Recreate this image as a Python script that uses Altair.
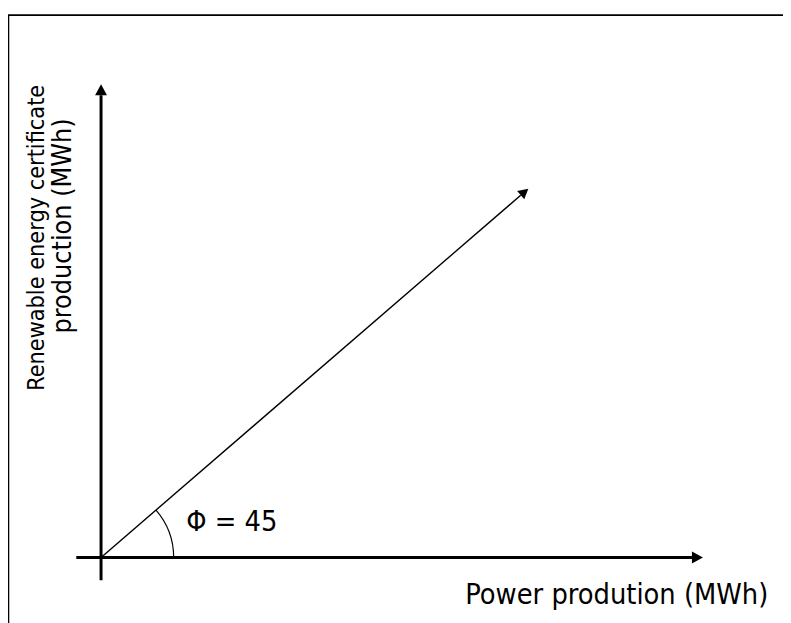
import math
import altair as alt
import pandas as pd

# ---- diagram geometry (chart units, origin at the axes crossing, y upward) ----
seg_names = ["power axis", "certificate axis", "vector"]
seg_x = [-25, 0, 0]
seg_y = [0, -23, 0]
seg_x2 = [597, 0, 424]
seg_y2 = [0, 467, 366]

frame_x = [-93.5, -94]
frame_y = [548, 548]
frame_x2 = [-93.5, 700]
frame_y2 = [-80, 548]

phi_label = "Φ = 45"
phi_pos = [86, 27]
arc_radius = [72.8, 74.0]

x_title = "Power prodution (MWh)"
x_title_pos = [368, -47]
y_title_lines = ["Renewable energy certificate", "production (MWh)"]
y_title_x = [-58, -30]
y_title_y = [323, 335]
y_title_sizes = [23.5, 27]

FONT = "DejaVu Sans Condensed, DejaVu Sans, sans-serif"

X = alt.Scale(domain=[-94, 689], nice=False, zero=False)
Y = alt.Scale(domain=[-63, 552], nice=False, zero=False)

segs = pd.DataFrame({"name": seg_names, "x": seg_x, "y": seg_y, "x2": seg_x2, "y2": seg_y2})
segs["angle"] = [(90 - math.degrees(math.atan2(b - a, d - c))) % 360
                 for a, b, c, d in zip(seg_y, seg_y2, seg_x, seg_x2)]

frame = pd.DataFrame({"x": frame_x, "y": frame_y, "x2": frame_x2, "y2": frame_y2})

def xe(f="x"):
    return alt.X(f"{f}:Q", scale=X, axis=None)

def ye(f="y"):
    return alt.Y(f"{f}:Q", scale=Y, axis=None)

frame_layer = alt.Chart(frame).mark_rule(color="black", strokeWidth=1.6).encode(
    x=xe(), y=ye(), x2="x2:Q", y2="y2:Q")

axes_layer = alt.Chart(segs.iloc[:2]).mark_rule(color="black", strokeWidth=3).encode(
    x=xe(), y=ye(), x2="x2:Q", y2="y2:Q")

vec_layer = alt.Chart(segs.iloc[2:]).mark_rule(color="black", strokeWidth=1.4).encode(
    x=xe(), y=ye(), x2="x2:Q", y2="y2:Q")

head_path = "M0,-1.85L-1,0L1,0Z"
heads_axes = alt.Chart(segs.iloc[:2]).mark_point(
    shape=head_path, filled=True, color="black", opacity=1, size=144, strokeWidth=0
).encode(x=xe("x2"), y=ye("y2"), angle=alt.Angle("angle:Q", scale=None))

heads_vec = alt.Chart(segs.iloc[2:]).mark_point(
    shape=head_path, filled=True, color="black", opacity=1, size=121, strokeWidth=0
).encode(x=xe("x2"), y=ye("y2"), angle=alt.Angle("angle:Q", scale=None))

vec_angle = math.atan2(seg_y2[2] - seg_y[2], seg_x2[2] - seg_x[2])
arc_df = pd.DataFrame({"x": [0], "y": [0]})
arc_layer = alt.Chart(arc_df).mark_arc(color="black").encode(
    x=xe(), y=ye(),
    radius=alt.value(arc_radius[1]), radius2=alt.value(arc_radius[0]),
    theta=alt.value(math.pi / 2 - vec_angle), theta2=alt.value(math.pi / 2))

phi_df = pd.DataFrame({"x": [phi_pos[0]], "y": [phi_pos[1]], "t": [phi_label]})
phi_layer = alt.Chart(phi_df).mark_text(
    font=FONT, fontSize=29, align="left", baseline="alphabetic", color="black"
).encode(x=xe(), y=ye(), text="t:N")

xt_df = pd.DataFrame({"x": [x_title_pos[0]], "y": [x_title_pos[1]], "t": [x_title]})
xt_layer = alt.Chart(xt_df).mark_text(
    font=FONT, fontSize=29, align="left", baseline="alphabetic", color="black"
).encode(x=xe(), y=ye(), text="t:N")

yt_df = pd.DataFrame({"x": y_title_x, "y": y_title_y, "t": y_title_lines, "s": y_title_sizes})
yt_layer = alt.Chart(yt_df).mark_text(
    font=FONT, align="center", baseline="alphabetic", angle=270, color="black"
).encode(x=xe(), y=ye(), text="t:N", size=alt.Size("s:Q", scale=None, legend=None))

chart = alt.layer(
    frame_layer, axes_layer, vec_layer, heads_axes, heads_vec, arc_layer,
    phi_layer, xt_layer, yt_layer
).properties(
    width=783, height=615, autosize=alt.AutoSizeParams(type="none"), padding=0
).configure_view(stroke=None)

chart.save("out.html", embed_options={"renderer": "svg", "actions": False})
